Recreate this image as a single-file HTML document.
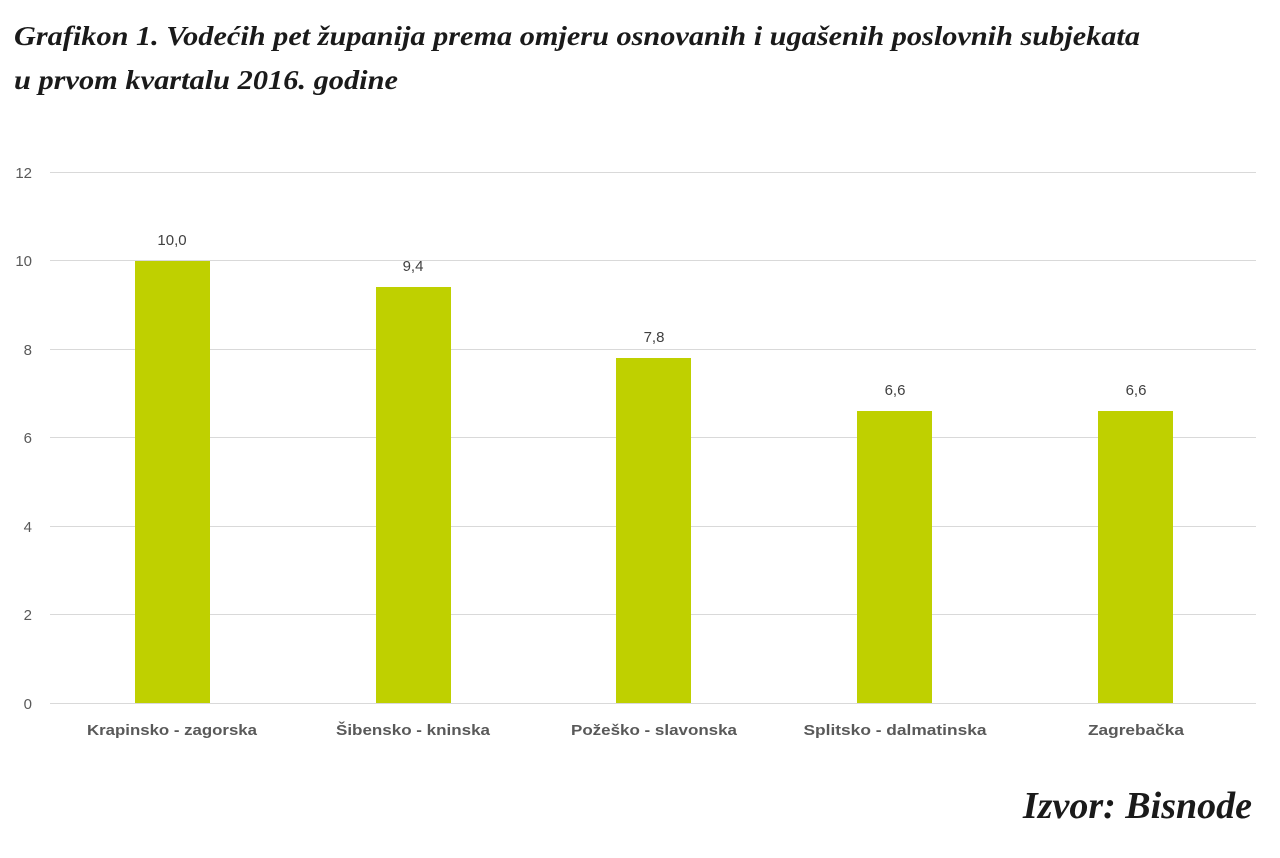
<!DOCTYPE html>
<html><head><meta charset="utf-8"><style>
body{margin:0;background:#fff;width:1280px;height:853px;overflow:hidden;position:relative}
</style></head><body>
<svg width="1280" height="853" xmlns="http://www.w3.org/2000/svg">
<g font-family="Liberation Serif, serif" font-style="italic" font-weight="bold" fill="#1a1a1a">
<text x="14" y="45" font-size="27" textLength="1126" lengthAdjust="spacingAndGlyphs">Grafikon 1. Vodećih pet županija prema omjeru osnovanih i ugašenih poslovnih subjekata</text>
<text x="14" y="89" font-size="27" textLength="384" lengthAdjust="spacingAndGlyphs">u prvom kvartalu 2016. godine</text>
<text x="1252" y="818" font-size="38" text-anchor="end">Izvor: Bisnode</text>
</g>
<g stroke="#d9d9d9" stroke-width="1">
<line x1="50" x2="1256" y1="172.5" y2="172.5"/>
<line x1="50" x2="1256" y1="260.5" y2="260.5"/>
<line x1="50" x2="1256" y1="349.5" y2="349.5"/>
<line x1="50" x2="1256" y1="437.5" y2="437.5"/>
<line x1="50" x2="1256" y1="526.5" y2="526.5"/>
<line x1="50" x2="1256" y1="614.5" y2="614.5"/>
<line x1="50" x2="1256" y1="703.5" y2="703.5"/>
</g>
<g font-family="Liberation Sans, sans-serif" font-size="15" fill="#595959" text-anchor="end">
<text x="32" y="178">12</text><text x="32" y="266">10</text><text x="32" y="355">8</text>
<text x="32" y="443">6</text><text x="32" y="532">4</text><text x="32" y="620">2</text><text x="32" y="709">0</text>
</g>
<g fill="#bfd000">
<rect x="135" y="261" width="75" height="442"/>
<rect x="376" y="287" width="75" height="416"/>
<rect x="616" y="358" width="75" height="345"/>
<rect x="857" y="411" width="75" height="292"/>
<rect x="1098" y="411" width="75" height="292"/>
</g>
<g font-family="Liberation Sans, sans-serif" font-size="15" fill="#404040" text-anchor="middle">
<text x="172" y="245">10,0</text><text x="413" y="271">9,4</text><text x="654" y="342">7,8</text>
<text x="895" y="395">6,6</text><text x="1136" y="395">6,6</text>
</g>
<g font-family="Liberation Sans, sans-serif" font-size="15" font-weight="bold" fill="#595959" text-anchor="middle" lengthAdjust="spacingAndGlyphs">
<text x="172" y="735" textLength="170" lengthAdjust="spacingAndGlyphs">Krapinsko - zagorska</text>
<text x="413" y="735" textLength="154" lengthAdjust="spacingAndGlyphs">Šibensko - kninska</text>
<text x="654" y="735" textLength="166" lengthAdjust="spacingAndGlyphs">Požeško - slavonska</text>
<text x="895" y="735" textLength="183" lengthAdjust="spacingAndGlyphs">Splitsko - dalmatinska</text>
<text x="1136" y="735" textLength="96" lengthAdjust="spacingAndGlyphs">Zagrebačka</text>
</g>
</svg>
</body></html>
